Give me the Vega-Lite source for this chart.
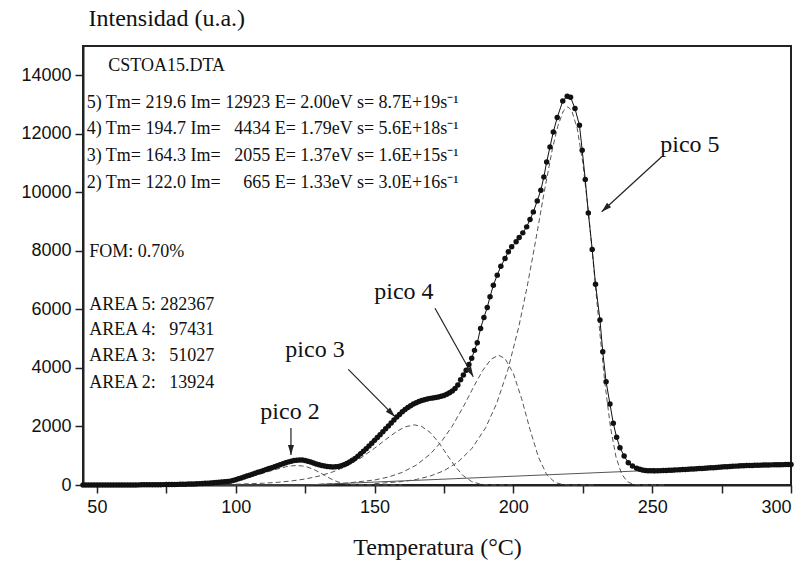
{
  "$schema": "https://vega.github.io/schema/vega-lite/v6.json",
  "autosize": "none",
  "width": 708,
  "height": 439,
  "padding": {"left": 83, "top": 46, "right": 17, "bottom": 77},
  "background": "white",
  "config": {"view": {"stroke": "#222", "strokeWidth": 2}},
  "datasets": {
    "exp": [
      {"T":45,"I":0},{"T":46,"I":0},{"T":47,"I":0},{"T":48,"I":0},{"T":49,"I":0},{"T":50,"I":0},{"T":51,"I":0},{"T":52,"I":0},{"T":53,"I":0},{"T":54,"I":0},{"T":55,"I":0},{"T":56,"I":0},{"T":57,"I":0},{"T":58,"I":0},{"T":59,"I":0},{"T":60,"I":0},{"T":61,"I":0},{"T":62,"I":0},
      {"T":63,"I":2},{"T":64,"I":3},{"T":65,"I":4},{"T":66,"I":5},{"T":67,"I":6},{"T":68,"I":7},{"T":69,"I":8},{"T":70,"I":9},{"T":71,"I":10},{"T":72,"I":11},{"T":73,"I":12},{"T":74,"I":13},{"T":75,"I":14},{"T":76,"I":16},{"T":77,"I":17},{"T":78,"I":19},{"T":79,"I":21},{"T":80,"I":23},{"T":81,"I":25},{"T":82,"I":28},{"T":83,"I":31},{"T":84,"I":34},{"T":85,"I":38},{"T":86,"I":42},{"T":87,"I":47},{"T":88,"I":52},{"T":89,"I":58},{"T":90,"I":64},{"T":91,"I":70},{"T":92,"I":77},{"T":93,"I":84},{"T":94,"I":92},{"T":95,"I":100},{"T":96,"I":108},{"T":97,"I":117},{"T":98,"I":127},{"T":99,"I":150},{"T":100,"I":180},
      {"T":101,"I":210},{"T":102,"I":240},{"T":103,"I":272},{"T":104,"I":304},{"T":105,"I":336},{"T":106,"I":368},{"T":107,"I":400},{"T":108,"I":432},{"T":109,"I":463},{"T":110,"I":495},{"T":111,"I":527},{"T":112,"I":560},{"T":113,"I":592},{"T":114,"I":626},{"T":115,"I":660},{"T":116,"I":694},{"T":117,"I":728},{"T":118,"I":760},{"T":119,"I":790},{"T":120,"I":815},
      {"T":121,"I":835},{"T":122,"I":848},{"T":123,"I":855},{"T":124,"I":852},{"T":125,"I":838},{"T":126,"I":815},{"T":127,"I":785},{"T":128,"I":752},{"T":129,"I":720},{"T":130,"I":692},{"T":131,"I":668},{"T":132,"I":648},{"T":133,"I":632},{"T":134,"I":622},{"T":135,"I":618},{"T":136,"I":622},{"T":137,"I":635},{"T":138,"I":658},{"T":139,"I":692},{"T":140,"I":735},
      {"T":141,"I":785},{"T":142,"I":842},{"T":143,"I":910},{"T":144,"I":985},{"T":145,"I":1065},{"T":146,"I":1150},{"T":147,"I":1240},{"T":148,"I":1335},{"T":149,"I":1430},{"T":150,"I":1525},{"T":151,"I":1620},{"T":152,"I":1720},{"T":153,"I":1820},{"T":154,"I":1920},{"T":155,"I":2020},{"T":156,"I":2120},{"T":157,"I":2220},{"T":158,"I":2320},{"T":159,"I":2410},{"T":160,"I":2500},
      {"T":161,"I":2580},{"T":162,"I":2650},{"T":163,"I":2710},{"T":164,"I":2765},{"T":165,"I":2810},{"T":166,"I":2850},{"T":167,"I":2885},{"T":168,"I":2915},{"T":169,"I":2940},{"T":170,"I":2960},{"T":171,"I":2975},{"T":172,"I":2990},{"T":173,"I":3005},{"T":174,"I":3030},{"T":175,"I":3060},{"T":176,"I":3100},{"T":177,"I":3150},{"T":178,"I":3215},{"T":179,"I":3300},{"T":180,"I":3420},
      {"T":181,"I":3600},{"T":182,"I":3760},{"T":183,"I":3920},{"T":184,"I":4120},{"T":185,"I":4330},{"T":186,"I":4600},{"T":187,"I":4860},
      {"T":188.2,"I":5351},{"T":189.4,"I":5726},{"T":190.6,"I":6068},{"T":191.6,"I":6430},{"T":192.8,"I":6829},{"T":194.2,"I":7171},{"T":195.5,"I":7478},{"T":197.0,"I":7739},{"T":198.2,"I":7966},{"T":199.4,"I":8137},{"T":201.0,"I":8308},{"T":202.1,"I":8457},{"T":203.4,"I":8615},{"T":204.8,"I":8820},{"T":206.0,"I":9072},{"T":207.2,"I":9332},{"T":208.6,"I":9708},{"T":209.9,"I":10073},{"T":211.0,"I":10528},{"T":212.0,"I":11040},{"T":213.2,"I":11553},{"T":214.4,"I":12065},{"T":215.8,"I":12555},{"T":217.8,"I":13122},{"T":219.4,"I":13283},{"T":220.6,"I":13250},
      {"T":222.2,"I":12862},{"T":223.8,"I":12293},{"T":224.8,"I":11439},{"T":225.9,"I":10438},{"T":227.0,"I":9298},{"T":228.4,"I":8048},{"T":229.6,"I":6863},{"T":231.2,"I":5634},{"T":232.2,"I":4552},{"T":233.4,"I":3527},{"T":234.8,"I":2766},{"T":236.0,"I":2107},{"T":237.2,"I":1629},{"T":238.4,"I":1274},{"T":239.9,"I":990},{"T":241.4,"I":761},{"T":242.9,"I":650},{"T":244.4,"I":570},{"T":245.5,"I":535},{"T":246.5,"I":512},{"T":247.5,"I":497},{"T":248.5,"I":490},{"T":249.5,"I":487},{"T":250.5,"I":485},
      {"T":251,"I":483},{"T":252,"I":487},{"T":253,"I":491},{"T":254,"I":495},{"T":255,"I":499},{"T":256,"I":503},{"T":257,"I":507},{"T":258,"I":512},{"T":259,"I":517},{"T":260,"I":522},{"T":261,"I":527},{"T":262,"I":532},{"T":263,"I":537},{"T":264,"I":543},{"T":265,"I":549},{"T":266,"I":555},{"T":267,"I":561},{"T":268,"I":567},{"T":269,"I":573},{"T":270,"I":580},
      {"T":271,"I":586},{"T":272,"I":593},{"T":273,"I":600},{"T":274,"I":606},{"T":275,"I":613},{"T":276,"I":620},{"T":277,"I":627},{"T":278,"I":633},{"T":279,"I":639},{"T":280,"I":645},{"T":281,"I":650},{"T":282,"I":655},{"T":283,"I":659},{"T":284,"I":663},{"T":285,"I":667},{"T":286,"I":670},{"T":287,"I":673},{"T":288,"I":676},{"T":289,"I":679},{"T":290,"I":681},
      {"T":291,"I":684},{"T":292,"I":686},{"T":293,"I":688},{"T":294,"I":690},{"T":295,"I":692},{"T":296,"I":694},{"T":297,"I":696},{"T":298,"I":697},{"T":299,"I":699},{"T":300,"I":700}
    ],
    "comps": [
      {"c":"p2","T":60,"I":4},{"c":"p2","T":70,"I":10},{"c":"p2","T":80,"I":28},{"c":"p2","T":90,"I":73},{"c":"p2","T":94,"I":107},{"c":"p2","T":98,"I":154},{"c":"p2","T":102,"I":218},{"c":"p2","T":106,"I":303},{"c":"p2","T":110,"I":407},{"c":"p2","T":114,"I":521},{"c":"p2","T":118,"I":621},{"c":"p2","T":120,"I":653},{"c":"p2","T":122,"I":665},{"c":"p2","T":124,"I":651},{"c":"p2","T":126,"I":608},{"c":"p2","T":128,"I":536},{"c":"p2","T":130,"I":440},{"c":"p2","T":132,"I":331},{"c":"p2","T":134,"I":224},{"c":"p2","T":136,"I":134},{"c":"p2","T":138,"I":68},{"c":"p2","T":140,"I":29},{"c":"p2","T":142,"I":10},{"c":"p2","T":144,"I":3},{"c":"p2","T":148,"I":0},{"c":"p2","T":160,"I":0},
      {"c":"p3","T":100,"I":27},{"c":"p3","T":110,"I":61},{"c":"p3","T":115,"I":91},{"c":"p3","T":120,"I":137},{"c":"p3","T":125,"I":205},{"c":"p3","T":130,"I":305},{"c":"p3","T":135,"I":448},{"c":"p3","T":140,"I":650},{"c":"p3","T":145,"I":919},{"c":"p3","T":150,"I":1255},{"c":"p3","T":154,"I":1552},{"c":"p3","T":158,"I":1830},{"c":"p3","T":161,"I":1986},{"c":"p3","T":164.3,"I":2055},{"c":"p3","T":167,"I":2000},{"c":"p3","T":170,"I":1800},{"c":"p3","T":173,"I":1466},{"c":"p3","T":176,"I":1049},{"c":"p3","T":179,"I":637},{"c":"p3","T":182,"I":313},{"c":"p3","T":185,"I":117},{"c":"p3","T":188,"I":31},{"c":"p3","T":191,"I":5},{"c":"p3","T":194,"I":0},{"c":"p3","T":200,"I":0},
      {"c":"p4","T":130,"I":26},{"c":"p4","T":140,"I":67},{"c":"p4","T":150,"I":171},{"c":"p4","T":155,"I":272},{"c":"p4","T":160,"I":431},{"c":"p4","T":165,"I":678},{"c":"p4","T":170,"I":1051},{"c":"p4","T":174,"I":1469},{"c":"p4","T":178,"I":2012},{"c":"p4","T":182,"I":2677},{"c":"p4","T":186,"I":3407},{"c":"p4","T":189,"I":3920},{"c":"p4","T":192,"I":4302},{"c":"p4","T":194.7,"I":4434},{"c":"p4","T":197,"I":4321},{"c":"p4","T":200,"I":3814},{"c":"p4","T":203,"I":2942},{"c":"p4","T":206,"I":1895},{"c":"p4","T":209,"I":962},{"c":"p4","T":212,"I":356},{"c":"p4","T":215,"I":86},{"c":"p4","T":218,"I":12},{"c":"p4","T":221,"I":1},{"c":"p4","T":230,"I":0},
      {"c":"p5","T":150,"I":45},{"c":"p5","T":160,"I":117},{"c":"p5","T":165,"I":189},{"c":"p5","T":170,"I":304},{"c":"p5","T":175,"I":487},{"c":"p5","T":180,"I":779},{"c":"p5","T":185,"I":1239},{"c":"p5","T":190,"I":1954},{"c":"p5","T":194,"I":2789},{"c":"p5","T":198,"I":3925},{"c":"p5","T":202,"I":5421},{"c":"p5","T":205,"I":6790},{"c":"p5","T":208,"I":8333},{"c":"p5","T":211,"I":9948},{"c":"p5","T":214,"I":11452},{"c":"p5","T":216,"I":12257},{"c":"p5","T":218,"I":12781},{"c":"p5","T":219.6,"I":12923},{"c":"p5","T":221,"I":12802},{"c":"p5","T":223,"I":12183},{"c":"p5","T":225,"I":11019},{"c":"p5","T":227,"I":9372},{"c":"p5","T":229,"I":7400},{"c":"p5","T":231,"I":5340},{"c":"p5","T":233,"I":3454},{"c":"p5","T":235,"I":1959},{"c":"p5","T":237,"I":946},{"c":"p5","T":239,"I":377},{"c":"p5","T":241,"I":119},{"c":"p5","T":243,"I":28},{"c":"p5","T":245,"I":5},{"c":"p5","T":248,"I":0},{"c":"p5","T":255,"I":0}
    ],
    "bg": [{"T":45,"I":0},{"T":125,"I":0},{"T":300,"I":700}],
    "texts": [
      {"T":54.1,"I":14317,"t":"CSTOA15.DTA"},
      {"T":46.33,"I":13042,"t":"5) Tm= 219.6 Im= 12923 E= 2.00eV s= 8.7E+19s⁻¹"},
      {"T":46.33,"I":12154,"t":"4) Tm= 194.7 Im= \u00a0\u00a04434 E= 1.79eV s= 5.6E+18s⁻¹"},
      {"T":46.33,"I":11242,"t":"3) Tm= 164.3 Im= \u00a0\u00a02055 E= 1.37eV s= 1.6E+15s⁻¹"},
      {"T":46.33,"I":10309,"t":"2) Tm= 122.0 Im= \u00a0\u00a0\u00a0\u00a0665 E= 1.33eV s= 3.0E+16s⁻¹"},
      {"T":47.27,"I":7972,"t":"FOM: 0.70%"},
      {"T":47.27,"I":6150,"t":"AREA 5: 282367"},
      {"T":47.27,"I":5296,"t":"AREA 4: \u00a0\u00a097431"},
      {"T":47.27,"I":4408,"t":"AREA 3: \u00a0\u00a051027"},
      {"T":47.27,"I":3496,"t":"AREA 2: \u00a0\u00a013924"}
    ],
    "picos": [
      {"T":119.55,"I":2505,"t":"pico 2"},
      {"T":128.56,"I":4613,"t":"pico 3"},
      {"T":160.6,"I":6605,"t":"pico 4"},
      {"T":263.6,"I":11617,"t":"pico 5"}
    ],
    "arrows": [
      {"T1":119.9,"I1":1948,"T2":119.9,"I2":1025,"ang":180},
      {"T1":140.55,"I1":3953,"T2":157.37,"I2":2334,"ang":135.4},
      {"T1":171.78,"I1":6038,"T2":185.57,"I2":3700,"ang":150.8},
      {"T1":253.43,"I1":11218,"T2":231.82,"I2":9338,"ang":227.5}
    ]
  },
  "layer": [
    {
      "data": {"name": "bg"},
      "mark": {"type": "line", "color": "#555", "strokeWidth": 1},
      "encoding": {
        "x": {"field": "T", "type": "quantitative", "scale": {"domain": [45, 300], "nice": false, "zero": false},
          "axis": {"values": [50,75,100,125,150,175,200,225,250,275,300], "labelExpr": "datum.value % 50 === 0 ? datum.label : ''",
            "grid": false, "tickSize": 8, "tickColor": "#222", "tickWidth": 1.5, "domainColor": "#222", "domainWidth": 2,
            "labelFont": "Liberation Sans", "labelFontSize": 18, "labelColor": "#111", "labelPadding": 5,
            "title": "Temperatura (°C)", "titleFont": "Liberation Serif", "titleFontSize": 24, "titleFontWeight": "normal", "titleColor": "#111",
            "titleBaseline": "middle", "titleY": 62}},
        "y": {"field": "I", "type": "quantitative", "scale": {"domain": [0, 15000], "nice": false},
          "axis": {"values": [0,1000,2000,3000,4000,5000,6000,7000,8000,9000,10000,11000,12000,13000,14000], "format": "d",
            "labelExpr": "datum.value % 2000 === 0 ? datum.label : ''",
            "grid": false, "tickSize": 8, "tickColor": "#222", "tickWidth": 1.5, "domainColor": "#222", "domainWidth": 2,
            "labelFont": "Liberation Sans", "labelFontSize": 18, "labelColor": "#111", "labelPadding": 4,
            "title": "Intensidad (u.a.)", "titleFont": "Liberation Serif", "titleFontSize": 24, "titleFontWeight": "normal", "titleColor": "#111",
            "titleAngle": 0, "titleAlign": "left", "titleBaseline": "middle", "titleX": 5, "titleY": -28}}
      }
    },
    {
      "data": {"name": "comps"},
      "mark": {"type": "line", "color": "#555", "strokeWidth": 1, "strokeDash": [5, 3]},
      "encoding": {
        "x": {"field": "T", "type": "quantitative"},
        "y": {"field": "I", "type": "quantitative"},
        "detail": {"field": "c"}
      }
    },
    {
      "data": {"name": "exp"},
      "mark": {"type": "line", "color": "#111", "strokeWidth": 1},
      "encoding": {
        "x": {"field": "T", "type": "quantitative"},
        "y": {"field": "I", "type": "quantitative"}
      }
    },
    {
      "data": {"name": "exp"},
      "mark": {"type": "point", "filled": true, "color": "#111", "size": 30, "opacity": 1},
      "encoding": {
        "x": {"field": "T", "type": "quantitative"},
        "y": {"field": "I", "type": "quantitative"}
      }
    },
    {
      "data": {"name": "texts"},
      "mark": {"type": "text", "font": "Liberation Serif", "fontSize": 18, "align": "left", "baseline": "middle", "color": "#111"},
      "encoding": {
        "x": {"field": "T", "type": "quantitative"},
        "y": {"field": "I", "type": "quantitative"},
        "text": {"field": "t"}
      }
    },
    {
      "data": {"name": "picos"},
      "mark": {"type": "text", "font": "Liberation Serif", "fontSize": 24, "align": "center", "baseline": "middle", "color": "#111"},
      "encoding": {
        "x": {"field": "T", "type": "quantitative"},
        "y": {"field": "I", "type": "quantitative"},
        "text": {"field": "t"}
      }
    },
    {
      "data": {"name": "arrows"},
      "mark": {"type": "rule", "color": "#222", "strokeWidth": 1.2},
      "encoding": {
        "x": {"field": "T1", "type": "quantitative"},
        "y": {"field": "I1", "type": "quantitative"},
        "x2": {"field": "T2"},
        "y2": {"field": "I2"}
      }
    },
    {
      "data": {"name": "arrows"},
      "mark": {"type": "point", "shape": "M0,0L-0.3,1L0.3,1Z", "filled": true, "color": "#222", "size": 400, "opacity": 1},
      "encoding": {
        "x": {"field": "T2", "type": "quantitative"},
        "y": {"field": "I2", "type": "quantitative"},
        "angle": {"field": "ang", "type": "quantitative", "scale": null}
      }
    }
  ]
}
